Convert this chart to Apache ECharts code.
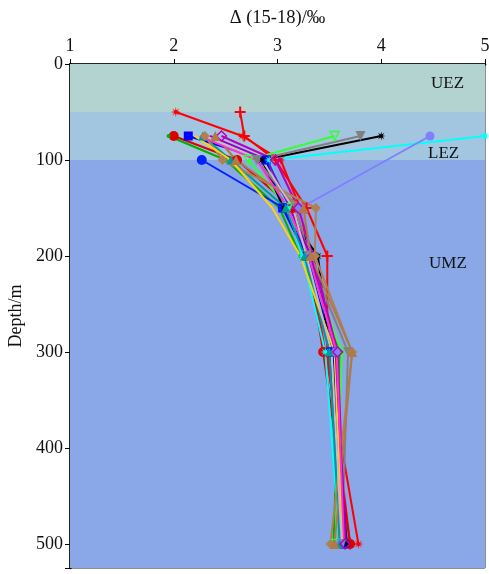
<!DOCTYPE html>
<html><head><meta charset="utf-8">
<script src="https://cdn.jsdelivr.net/npm/echarts@6/dist/echarts.min.js"></script>
<style>html,body{margin:0;padding:0;background:#fff}#c{width:489px;height:574px}</style>
</head><body><div id="c"></div>
<script>
// Depths (m) at which values are given
var depths = [50, 75, 100, 150, 200, 300, 500];
// Δ(15-18) values per profile (null = no sample)
var redStar    = [2.02, 2.66, 3.03, 3.22, 3.30, 3.46, 3.78];
var redPlus    = [2.64, 2.68, 2.98, 3.28, 3.48, 3.48, 3.70];
var redCircle  = [null, 2.00, 2.61, 3.15, 3.29, 3.44, 3.70];
var greenDot   = [null, 1.95, 2.50, 3.02, 3.22, 3.60, 3.54];
var greenTri   = [null, 3.55, 2.72, 3.10, 3.28, 3.62, 3.56];
var blueSquare = [null, 2.14, 2.89, 3.05, 3.28, 3.54, 3.64];
var blueCircle = [null, null, 2.27, 3.06, 3.30, 3.50, 3.62];
var blackStar  = [null, 4.00, 2.85, 3.06, 3.39, 3.50, 3.67];
var grayTri    = [null, 3.80, 2.80, 3.18, 3.30, 3.68, 3.62];
var cyanStar   = [null, 5.00, 2.92, 3.10, 3.24, 3.46, 3.60];
var slateDot   = [null, 4.47, null, 3.22, 3.32, 3.56, 3.60];
var tealTri    = [null, 2.28, 2.55, 3.08, 3.26, 3.50, 3.60];
var magDiamond = [null, 2.46, 2.98, 3.20, 3.34, 3.58, 3.65];
var tanDiamond = [null, 2.30, 2.47, 3.37, 3.36, 3.72, 3.51];
var brownTri   = [null, 2.40, 2.60, 3.25, 3.32, 3.72, 3.55];
var yellowLine = [null, 2.20, 2.55, 2.95, 3.22, 3.55, 3.63];
var purpleLine = [null, 2.35, 2.90, 3.12, 3.32, 3.56, 3.66];
var pinkLine   = [null, 2.25, 2.80, 3.10, 3.30, 3.57, 3.64];
var silverLine = [null, 2.30, 2.85, 3.15, 3.28, 3.52, 3.62];
// Axis ticks
var xTicks = [1, 2, 3, 4, 5];
var yTicks = [0, 100, 200, 300, 400, 500];
// Zones (depth ranges)
var zones = [["UEZ", 0, 50], ["LEZ", 50, 100], ["UMZ", 100, 525]];

function starPath(n, inner) {
  var s = 'path://';
  for (var i = 0; i < 2 * n; i++) {
    var r = i % 2 ? inner : 1;
    var a = Math.PI * i / n - Math.PI / 2;
    s += (i ? 'L' : 'M') + (r * Math.cos(a)).toFixed(3) + ',' + (r * Math.sin(a)).toFixed(3);
  }
  return s + 'Z';
}
var STAR = starPath(8, 0.35);
var PLUS = 'path://M-1,-0.18L-0.18,-0.18L-0.18,-1L0.18,-1L0.18,-0.18L1,-0.18L1,0.18L0.18,0.18L0.18,1L-0.18,1L-0.18,0.18L-1,0.18Z';

var defs = [
  [redStar, '#ff0000', STAR, 10, 0, false],
  [redPlus, '#ff0000', PLUS, 11, 0, false],
  [redCircle, '#dd0000', 'circle', 10, 0, false],
  [greenDot, '#00b000', 'circle', 4, 0, false],
  [greenTri, '#33ff33', 'triangle', 9, 180, true],
  [blueSquare, '#0000ff', 'rect', 9, 0, false],
  [blueCircle, '#0022ff', 'circle', 10, 0, false],
  [blackStar, '#000000', STAR, 9, 0, false],
  [grayTri, '#808080', 'triangle', 10, 180, false],
  [cyanStar, '#00ffff', STAR, 10, 0, false],
  [slateDot, '#7f7fff', 'circle', 9, 0, false],
  [tealTri, '#009999', 'triangle', 9, 0, false],
  [magDiamond, '#bb00bb', 'diamond', 10, 0, true],
  [tanDiamond, '#b08050', 'diamond', 10, 0, false],
  [brownTri, '#b07a48', 'triangle', 10, 0, false],
  [yellowLine, '#ffd400', 'none', 4, 0, false],
  [purpleLine, '#9900cc', 'none', 4, 0, false],
  [pinkLine, '#ff33cc', 'none', 4, 0, false],
  [silverLine, '#c0c0c0', 'none', 4, 0, false]
];

var series = [{
  type: 'line', data: [], silent: true, z: 1,
  markArea: {
    silent: true,
    data: zones.map(function (z, i) {
      return [{ yAxis: z[1], itemStyle: { color: ['#b3d3d0', '#a3c6e0', '#8aa8e8'][i], opacity: 1 } }, { yAxis: z[2] }];
    })
  }
}];
defs.forEach(function (d) {
  var pts = [];
  depths.forEach(function (dep, i) { if (d[0][i] != null) pts.push([d[0][i], dep]); });
  series.push({
    type: 'line', data: pts, symbol: d[2], symbolSize: d[3], symbolRotate: d[4],
    lineStyle: { color: d[1], width: 2 },
    itemStyle: d[5] ? { color: 'rgba(0,0,0,0)', borderColor: d[1], borderWidth: 1.5 } : { color: d[1], borderWidth: 0 },
    z: 3
  });
});

var chart = echarts.init(document.getElementById('c'), null, { renderer: 'canvas' });
var serif = 'Liberation Serif';
chart.setOption({
  animation: false,
  grid: { left: 70, right: 4, top: 64, bottom: 6, containLabel: false, outerBoundsMode: 'none',
    show: true, borderColor: '#222', borderWidth: 1, backgroundColor: 'transparent' },
  xAxis: {
    type: 'value', position: 'top', min: xTicks[0], max: xTicks[xTicks.length - 1], interval: 1,
    name: 'Δ (15-18)/‰', nameLocation: 'middle', nameGap: 36,
    nameTextStyle: { fontFamily: serif, fontSize: 18.5, color: '#111' },
    axisLine: { show: true, lineStyle: { color: '#000', width: 2.5 } },
    axisTick: { show: true, length: 5, lineStyle: { color: '#000' } },
    axisLabel: { fontFamily: serif, fontSize: 18, color: '#111', margin: 9 },
    splitLine: { show: false }
  },
  yAxis: {
    type: 'value', inverse: true, min: 0, max: 525, interval: 100,
    name: 'Depth/m', nameLocation: 'middle', nameGap: 43, nameRotate: 90,
    nameTextStyle: { fontFamily: serif, fontSize: 18, color: '#111' },
    axisLine: { show: true, lineStyle: { color: '#000', width: 2.5 } },
    axisTick: { show: true, length: 5, lineStyle: { color: '#000' } },
    axisLabel: { fontFamily: serif, fontSize: 18, color: '#111', margin: 7,
      formatter: function (v) { return yTicks.indexOf(v) >= 0 ? v : ''; } },
    splitLine: { show: false }
  },
  graphic: [
    { type: 'text', z: 100, x: 431, y: 75, style: { text: 'UEZ', fontFamily: serif, fontSize: 17, fill: '#111' } },
    { type: 'text', z: 100, x: 428, y: 145, style: { text: 'LEZ', fontFamily: serif, fontSize: 17, fill: '#111' } },
    { type: 'text', z: 100, x: 429, y: 255, style: { text: 'UMZ', fontFamily: serif, fontSize: 17, fill: '#111' } }
  ],
  series: series
});
</script></body></html>
